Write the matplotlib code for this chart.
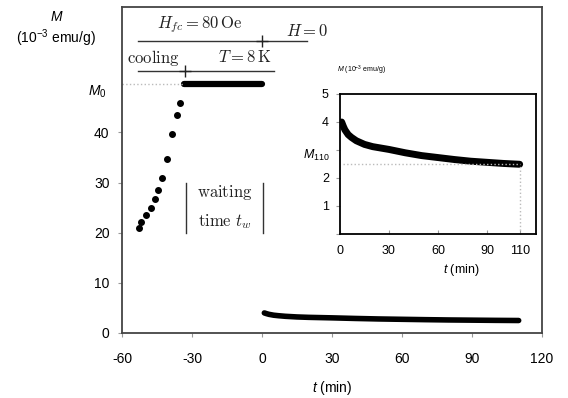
import numpy as np
import matplotlib
matplotlib.use("Agg")
import matplotlib.pyplot as plt

plt.rcParams["font.family"] = ["Liberation Sans", "DejaVu Sans"]
plt.rcParams["mathtext.fontset"] = "custom"
plt.rcParams["mathtext.rm"] = "Liberation Sans"
plt.rcParams["mathtext.it"] = "Liberation Sans:italic"
plt.rcParams["mathtext.bf"] = "Liberation Sans:bold"
plt.rcParams["axes.unicode_minus"] = False

# Data
M0 = 49.7
cool_t = [-52.8, -51.7, -49.7, -47.7, -45.7, -44.6, -42.7, -40.6, -38.7, -36.6, -35.0]
cool_m = [21.0, 22.1, 23.5, 25.0, 26.7, 28.5, 31.0, 34.7, 39.6, 43.4, 45.9]
wait_t = [-33.3, 0.0]
wait_m = [M0, M0]
decay_t = [1, 2, 3, 5, 7, 10, 15, 20, 25, 30, 40, 50, 60, 70, 80, 90, 100, 110]
decay_m = [4.0, 3.85, 3.72, 3.55, 3.45, 3.33, 3.2, 3.12, 3.07, 3.02, 2.9, 2.8,
           2.73, 2.66, 2.6, 2.56, 2.52, 2.49]
M110 = 2.49

main_xticks = [-60, -30, 0, 30, 60, 90, 120]
main_yticks = [0, 10, 20, 30, 40]
inset_xticks = [0, 30, 60, 90, 110]
inset_yticks = [0, 1, 2, 3, 4, 5]
inset_ylabels = ["", "1", "2", "", "4", "5"]

W, H = 568, 398
fig = plt.figure(figsize=(W / 100, H / 100), dpi=100)
fig.patch.set_facecolor("white")

# Main axes
ax = fig.add_axes([122 / W, 1 - 333 / H, 420 / W, 326 / H])
ax.set_xlim(-60, 120)
ax.set_ylim(0, 65)
for s in ax.spines.values():
    s.set_color("#444444")
    s.set_linewidth(1.3)
ax.tick_params(direction="out", length=3, width=0.8, color="#999999",
               labelsize=10)
ax.tick_params(axis="x", pad=11)
ax.tick_params(axis="y", pad=6)
ax.set_xticks(main_xticks)
ax.set_yticks(main_yticks)
ax.set_xlabel(r"$t$ (min)", fontsize=10, labelpad=9)

ax.plot(cool_t, cool_m, "o", color="black", markersize=4)
ax.plot(wait_t, wait_m, "-", color="black", linewidth=4.5, solid_capstyle="round")
ax.plot(decay_t, decay_m, "-", color="black", linewidth=4, solid_capstyle="round")
ax.plot([-60, wait_t[0]], [M0, M0], ":", color="#bbbbbb", linewidth=1)
ax.text(-0.037, 48, r"$M_0$", transform=ax.get_yaxis_transform(),
        ha="right", va="center", fontsize=10)

# Protocol annotations (Computer Modern look)
cm = dict(math_fontfamily="cm", fontsize=12, color="#222222")
ax.plot([-53, 19.3], [58.2, 58.2], color="#333333", linewidth=1)
ax.plot([0], [58.2], "+", color="#222222", markersize=9, markeredgewidth=1)
ax.plot([-53, 5], [52.3, 52.3], color="#333333", linewidth=1)
ax.plot([-33], [52.3], "+", color="#222222", markersize=9, markeredgewidth=1)
ax.text(-26.5, 61.5, r"$H_{fc} = 80\,\mathrm{Oe}$", ha="center", va="center", **cm)
ax.text(19.5, 60.3, r"$H = 0$", ha="center", va="center", **cm)
ax.text(-46.5, 54.8, r"$\mathrm{cooling}$", ha="center", va="center", **cm)
ax.text(-7.5, 55.0, r"$T = 8\,\mathrm{K}$", ha="center", va="center", **cm)
ax.text(-15.9, 28.0, r"$\mathrm{waiting}$", ha="center", va="center", **cm)
ax.text(-15.9, 22.2, r"$\mathrm{time}\ t_w$", ha="center", va="center", **cm)
ax.plot([-32.7, -32.7], [19.9, 30.0], color="#333333", linewidth=1)
ax.plot([0.3, 0.3], [19.9, 30.0], color="#333333", linewidth=1)

fig.text(57 / W, 1 - 17 / H, r"$M$", ha="center", va="center", fontsize=10)
fig.text(56 / W, 1 - 38 / H, r"(10$^{-3}$ emu/g)", ha="center", va="center",
         fontsize=10)

# Inset
ai = fig.add_axes([340 / W, 1 - 234 / H, 196 / W, 140 / H])
ai.set_xlim(0, 120)
ai.set_ylim(0, 5)
for s in ai.spines.values():
    s.set_color("black")
    s.set_linewidth(1.3)
ai.plot(decay_t, decay_m, "-", color="black", linewidth=5, solid_capstyle="round")
ai.plot([2, 110], [M110, M110], ":", color="#bbbbbb", linewidth=1)
ai.plot([110, 110], [0, M110], ":", color="#bbbbbb", linewidth=1)
ai.set_xticks(inset_xticks)
ai.set_yticks(inset_yticks)
ai.set_yticklabels(inset_ylabels)
ai.tick_params(axis="y", direction="out", length=3, width=0.8, color="#999999",
               labelsize=9, pad=5)
ai.tick_params(axis="x", direction="in", length=3, width=0.8, color="#999999",
               labelsize=9, pad=8)
ai.text(-0.05, 2.8, r"$M_{110}$", transform=ai.get_yaxis_transform(),
        ha="right", va="center", fontsize=9)
ai.text(0.62, -0.26, r"$t$ (min)", transform=ai.transAxes, ha="center",
        va="center", fontsize=9)
ai.text(-0.015, 1.17, r"$M$ (10$^{-3}$ emu/g)", transform=ai.transAxes,
        ha="left", va="center", fontsize=5)

fig.savefig("out.png", dpi=100)
